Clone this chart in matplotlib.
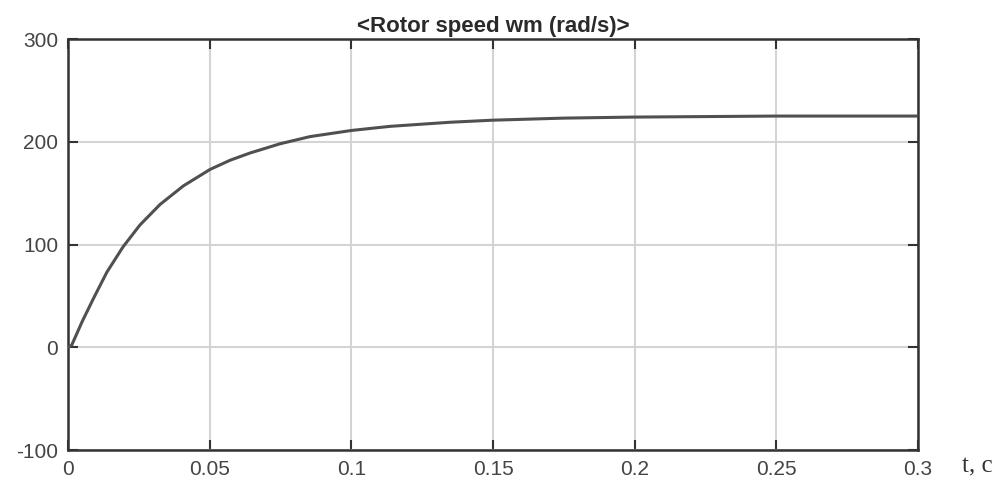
import matplotlib
matplotlib.use("Agg")
import matplotlib.pyplot as plt

# Data
t = [0.0, 0.0013, 0.0050, 0.0089, 0.0137, 0.0195, 0.0254, 0.0325, 0.0407,
     0.0501, 0.0572, 0.0642, 0.0748, 0.0854, 0.1001, 0.1137, 0.135, 0.150,
     0.175, 0.1995, 0.225, 0.25, 0.275, 0.3]
speed = [0, 2, 25, 47, 73, 98, 119, 139, 157,
         173, 182, 189, 198, 205, 211, 215, 219, 221,
         223, 224, 224.5, 225, 225, 225]

xticks = [0, 0.05, 0.1, 0.15, 0.2, 0.25, 0.3]
xtick_labels = ["0", "0.05", "0.1", "0.15", "0.2", "0.25", "0.3"]
yticks = [-100, 0, 100, 200, 300]
ytick_labels = ["-100", "0", "100", "200", "300"]
title = "<Rotor speed wm (rad/s)>"
xlabel = "t, c"

plt.rcParams['font.family'] = ['Liberation Sans', 'DejaVu Sans']
fig = plt.figure(figsize=(10.05, 4.86), dpi=100)
ax = fig.add_axes([68/1005, 1-450/486, (918-68)/1005, (450-39)/486])

ax.plot(t, speed, color='#505050', lw=2.2, zorder=3, solid_joinstyle='round')
ax.set_xlim(0, 0.3)
ax.set_ylim(-100, 300)
ax.set_xticks(xticks)
ax.set_xticklabels(xtick_labels)
ax.set_yticks(yticks)
ax.set_yticklabels(ytick_labels)
ax.grid(True, color='#d4d4d4', lw=1.5)
ax.tick_params(direction='in', length=7, width=1.5, color='#333333',
               labelsize=15, labelcolor='#444444', top=True, right=True, pad=7)
for s in ax.spines.values():
    s.set_color('#333333')
    s.set_linewidth(1.8)

ax.set_title(title, fontsize=16, fontweight='bold', color='#2a2a2a', pad=5)
fig.text(977/1005, 1-466/486, xlabel, family=['Liberation Serif', 'DejaVu Serif'],
         fontsize=18, color='#333333', ha='center', va='center')

fig.savefig("out.png", dpi=100)
